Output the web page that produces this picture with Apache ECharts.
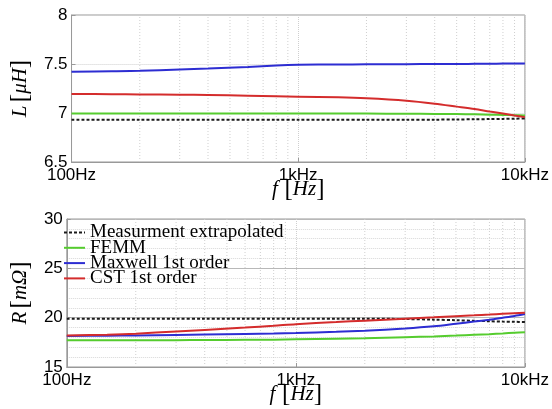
<!DOCTYPE html>
<html>
<head>
<meta charset="utf-8">
<script src="https://cdn.jsdelivr.net/npm/echarts@6/dist/echarts.min.js"></script>
<style>
  html, body { margin: 0; background: #fff; }
  #chart { width: 552px; height: 409px; }
</style>
</head>
<body>
<div id="chart"></div>
<script>
// frequencies in Hz
const freq = [100, 150, 200, 300, 400, 600, 800, 1000, 1500, 2000, 3000, 4000, 5000, 6000, 7000, 8000, 9000, 10000]
// minor grid positions (log axis)
const minorFreq = [200, 300, 400, 500, 600, 700, 800, 900, 2000, 3000, 4000, 5000, 6000, 7000, 8000, 9000]

const seriesNames = ['Measurment extrapolated', 'FEMM', 'Maxwell 1st order', 'CST 1st order']

// inductance L [uH]
const lMeas = [6.93, 6.93, 6.93, 6.93, 6.93, 6.93, 6.93, 6.93, 6.93, 6.93, 6.93, 6.932, 6.934, 6.936, 6.938, 6.94, 6.942, 6.945]
const lFemm = [6.995, 6.995, 6.995, 6.995, 6.995, 6.995, 6.995, 6.995, 6.995, 6.994, 6.993, 6.991, 6.989, 6.986, 6.983, 6.98, 6.977, 6.975]
const lMaxwell = [7.42, 7.425, 7.43, 7.445, 7.455, 7.47, 7.485, 7.492, 7.495, 7.497, 7.498, 7.5, 7.5, 7.502, 7.503, 7.504, 7.505, 7.506]
const lCst = [7.194, 7.192, 7.19, 7.187, 7.183, 7.177, 7.171, 7.167, 7.16, 7.15, 7.125, 7.095, 7.065, 7.04, 7.015, 6.995, 6.975, 6.958]

// resistance R [mOhm]
const rMeas = [19.9, 19.9, 19.9, 19.9, 19.9, 19.9, 19.9, 19.9, 19.9, 19.9, 19.86, 19.8, 19.74, 19.68, 19.64, 19.6, 19.58, 19.55]
const rFemm = [17.7, 17.7, 17.71, 17.72, 17.73, 17.75, 17.77, 17.8, 17.86, 17.91, 18.02, 18.1, 18.18, 18.26, 18.33, 18.4, 18.47, 18.53]
const rMaxwell = [18.15, 18.17, 18.2, 18.25, 18.29, 18.35, 18.4, 18.45, 18.57, 18.68, 18.9, 19.12, 19.38, 19.6, 19.8, 20.0, 20.18, 20.37]
const rCst = [18.2, 18.28, 18.38, 18.6, 18.76, 19.0, 19.18, 19.34, 19.55, 19.7, 19.9, 20.04, 20.15, 20.24, 20.32, 20.39, 20.45, 20.5]

const colors = ['#1a1a1a', '#55cc2e', '#2d2dd2', '#d42c2c']

const sansFont = 'Liberation Sans'
const serifFont = 'Liberation Serif'

const nameRich = {
  i: { fontFamily: serifFont, fontStyle: 'italic', fontSize: 21, color: '#000' },
  r: { fontFamily: serifFont, fontSize: 25, color: '#000' }
}

function makeXAxis(gridIndex, nameGap) {
  return {
    type: 'log',
    logBase: 10,
    gridIndex: gridIndex,
    min: 100,
    max: 10000,
    name: '{i|f}  {r|[}{i|Hz}{r|]}',
    nameLocation: 'middle',
    nameGap: nameGap,
    nameMoveOverlap: false,
    nameTextStyle: { rich: nameRich },
    axisLine: { lineStyle: { color: '#999', width: 1 } },
    axisTick: { inside: true, length: 4, lineStyle: { color: '#999' } },
    axisLabel: {
      margin: 5,
      fontFamily: sansFont,
      fontSize: 17,
      color: '#000',
      formatter: function (v) {
        v = Math.round(v)
        return v >= 1000 ? v / 1000 + 'kHz' : v + 'Hz'
      }
    },
    splitLine: { show: true, lineStyle: { color: '#cfcfcf', type: 'dotted' } }
  }
}

function makeSeries(name, values, idx, color, dashed) {
  return {
    name: name,
    type: 'line',
    xAxisIndex: idx,
    yAxisIndex: idx,
    data: freq.map((f, i) => [f, values[i]]),
    symbol: 'none',
    showSymbol: false,
    smooth: 0.3,
    z: 3,
    lineStyle: { color: color, width: 2, type: dashed ? [3, 2] : 'solid' },
    itemStyle: { color: color }
  }
}

// dotted minor vertical grid lines at 200..900, 2k..9k
function minorGrid(idx, yMin, yMax) {
  return {
    type: 'custom',
    xAxisIndex: idx,
    yAxisIndex: idx,
    data: minorFreq.map(f => [f, yMin]),
    z: 1,
    silent: true,
    renderItem: function (params, api) {
      const p1 = api.coord([api.value(0), yMin])
      const p2 = api.coord([api.value(0), yMax])
      return {
        type: 'line',
        silent: true,
        shape: { x1: p1[0], y1: p1[1], x2: p2[0], y2: p2[1] },
        style: { stroke: '#cfcfcf', lineWidth: 1, lineDash: [1, 2] }
      }
    }
  }
}

const chart = echarts.init(document.getElementById('chart'))
chart.setOption({
  animation: false,
  backgroundColor: '#fff',
  grid: [
    { left: 58, right: 27, top: 15, height: 147, show: true, borderColor: '#999', borderWidth: 1 },
    { left: 58, right: 27, top: 219, height: 148, show: true, borderColor: '#999', borderWidth: 1 }
  ],
  legend: {
    orient: 'vertical',
    left: 58,
    top: 218,
    itemWidth: 21,
    itemHeight: 14,
    itemGap: -3.7,
    data: seriesNames,
    itemStyle: { opacity: 0 },
    textStyle: { fontFamily: serifFont, fontSize: 19, lineHeight: 15, color: '#000' }
  },
  xAxis: [makeXAxis(0, 15), makeXAxis(1, 15)],
  yAxis: [
    {
      type: 'value',
      gridIndex: 0,
      min: 6.5,
      max: 8,
      interval: 0.5,
      name: '{i|L} {r|[}{i|μH}{r|]}',
      nameLocation: 'middle',
      nameGap: 36,
      nameTextStyle: { rich: nameRich },
      axisLine: { show: true, lineStyle: { color: '#999' } },
      axisTick: { show: true, inside: true, length: 4, lineStyle: { color: '#999' } },
      axisLabel: { margin: 4, fontFamily: sansFont, fontSize: 17, color: '#000' },
      splitLine: { lineStyle: { color: '#cfcfcf', type: 'dotted' } }
    },
    {
      type: 'value',
      gridIndex: 1,
      min: 15,
      max: 30,
      interval: 5,
      name: '{i|R} {r|[}{i|mΩ}{r|]}',
      nameLocation: 'middle',
      nameGap: 33,
      nameTextStyle: { rich: nameRich },
      axisLine: { show: true, lineStyle: { color: '#999' } },
      axisTick: { show: true, inside: true, length: 4, lineStyle: { color: '#999' } },
      axisLabel: { margin: 4, fontFamily: sansFont, fontSize: 17, color: '#000' },
      splitLine: { lineStyle: { color: '#b8b8b8', type: 'solid' } },
      minorTick: { show: false, splitNumber: 5 },
      minorSplitLine: { show: true, lineStyle: { color: '#d8d8d8', type: 'dotted' } }
    }
  ],
  series: [
    minorGrid(0, 6.5, 8),
    minorGrid(1, 15, 30),
    makeSeries(seriesNames[0], lMeas, 0, colors[0], true),
    makeSeries(seriesNames[1], lFemm, 0, colors[1], false),
    makeSeries(seriesNames[2], lMaxwell, 0, colors[2], false),
    makeSeries(seriesNames[3], lCst, 0, colors[3], false),
    makeSeries(seriesNames[0], rMeas, 1, colors[0], true),
    makeSeries(seriesNames[1], rFemm, 1, colors[1], false),
    makeSeries(seriesNames[2], rMaxwell, 1, colors[2], false),
    makeSeries(seriesNames[3], rCst, 1, colors[3], false)
  ]
})
</script>
</body>
</html>
